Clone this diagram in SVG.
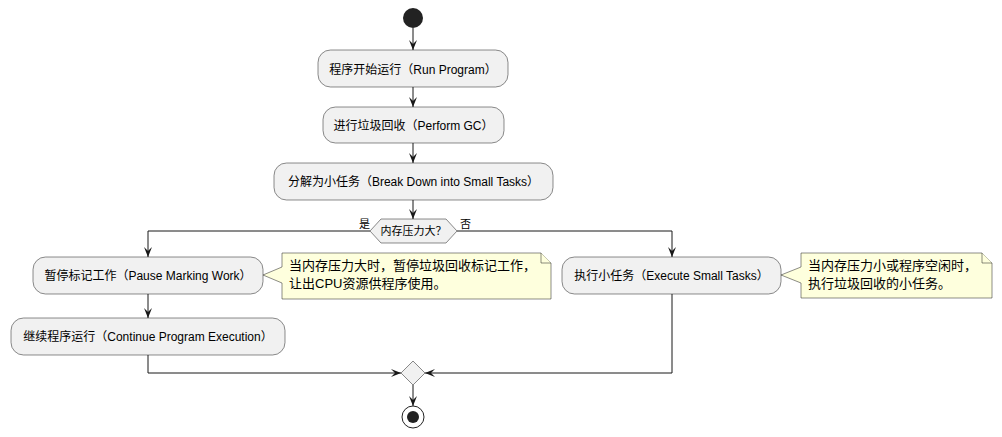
<svg xmlns="http://www.w3.org/2000/svg" width="1002" height="437" viewBox="0 0 1002 437">
<style>
.act{fill:#F1F1F1;stroke:#181818;stroke-width:0.5}
.note{fill:#FEFFDD;stroke:#181818;stroke-width:0.5}
.t{font-family:"Liberation Sans","Noto Sans CJK SC",sans-serif;font-size:12px;fill:#000}
.tn{font-family:"Liberation Sans","Noto Sans CJK SC",sans-serif;font-size:13px;fill:#000}
.ts{font-family:"Liberation Sans","Noto Sans CJK SC",sans-serif;font-size:11px;fill:#000}
.c{fill:none;stroke:#181818;stroke-width:1}
</style>
<defs>
<marker id="ah" markerUnits="userSpaceOnUse" markerWidth="10" markerHeight="10" viewBox="0 0 10 8" refX="10" refY="4" orient="auto">
<path d="M0,0 L10,4 L0,8 L4,4 Z" fill="#181818"/>
</marker>
</defs>
<rect width="1002" height="437" fill="#FFFFFF"/>
<g id="connectors">
<line class="c" x1="413" y1="28" x2="413" y2="50" marker-end="url(#ah)"/>
<line class="c" x1="413" y1="87" x2="413" y2="107" marker-end="url(#ah)"/>
<line class="c" x1="413" y1="143" x2="413" y2="163" marker-end="url(#ah)"/>
<line class="c" x1="413" y1="200" x2="413" y2="219" marker-end="url(#ah)"/>
<polyline class="c" points="370,231 148,231 148,257" marker-end="url(#ah)"/>
<polyline class="c" points="457,231 672,231 672,257" marker-end="url(#ah)"/>
<line class="c" x1="148" y1="294" x2="148" y2="318" marker-end="url(#ah)"/>
<polyline class="c" points="148,355 148,373 401,373" marker-end="url(#ah)"/>
<polyline class="c" points="672,294 672,373 425,373" marker-end="url(#ah)"/>
<line class="c" x1="413" y1="385" x2="413" y2="406" marker-end="url(#ah)"/>
</g>
<g id="start"><circle cx="413" cy="18" r="10" fill="#222222"/></g>
<g id="a1"><rect class="act" x="318" y="50" width="190" height="37" rx="12.5"/><text class="t" x="413" y="73.5" text-anchor="middle">程序开始运行（Run Program）</text></g>
<g id="a2"><rect class="act" x="323" y="107" width="181" height="36" rx="12.5"/><text class="t" x="413.5" y="129.5" text-anchor="middle">进行垃圾回收（Perform GC）</text></g>
<g id="a3"><rect class="act" x="274" y="163" width="279" height="37" rx="12.5"/><text class="t" x="413.5" y="186" text-anchor="middle">分解为小任务（Break Down into Small Tasks）</text></g>
<g id="decision">
<polygon class="act" points="370,231 381,219 446,219 457,231 446,243 381,243"/>
<text class="ts" x="413.5" y="235" text-anchor="middle">内存压力大？</text>
<text class="ts" x="359" y="228">是</text>
<text class="ts" x="460" y="228">否</text>
</g>
<g id="a4"><rect class="act" x="33" y="257" width="230" height="37" rx="12.5"/><text class="t" x="148" y="280" text-anchor="middle">暂停标记工作（Pause Marking Work）</text></g>
<g id="note1">
<path class="note" d="M282,253 L541,253 L551,263 L551,299 L282,299 L282,283 L263,275 L282,267 Z"/>
<path class="note" d="M541,253 L541,263 L551,263"/>
<text class="tn" x="289" y="270">当内存压力大时，暂停垃圾回收标记工作，</text>
<text class="tn" x="289" y="288">让出CPU资源供程序使用。</text>
</g>
<g id="a6"><rect class="act" x="11" y="318" width="274" height="37" rx="12.5"/><text class="t" x="148" y="341" text-anchor="middle">继续程序运行（Continue Program Execution）</text></g>
<g id="a5"><rect class="act" x="562" y="257" width="219" height="37" rx="12.5"/><text class="t" x="671.5" y="280" text-anchor="middle">执行小任务（Execute Small Tasks）</text></g>
<g id="note2">
<path class="note" d="M801,253 L982,253 L992,263 L992,298 L801,298 L801,283 L781,275 L801,267 Z"/>
<path class="note" d="M982,253 L982,263 L992,263"/>
<text class="tn" x="808" y="270">当内存压力小或程序空闲时，</text>
<text class="tn" x="808" y="288">执行垃圾回收的小任务。</text>
</g>
<g id="merge"><polygon class="act" points="413,361 425,373 413,385 401,373"/></g>
<g id="end"><circle cx="413" cy="417" r="11" fill="none" stroke="#222222" stroke-width="1"/><circle cx="413" cy="417" r="6" fill="#222222"/></g>
</svg>
